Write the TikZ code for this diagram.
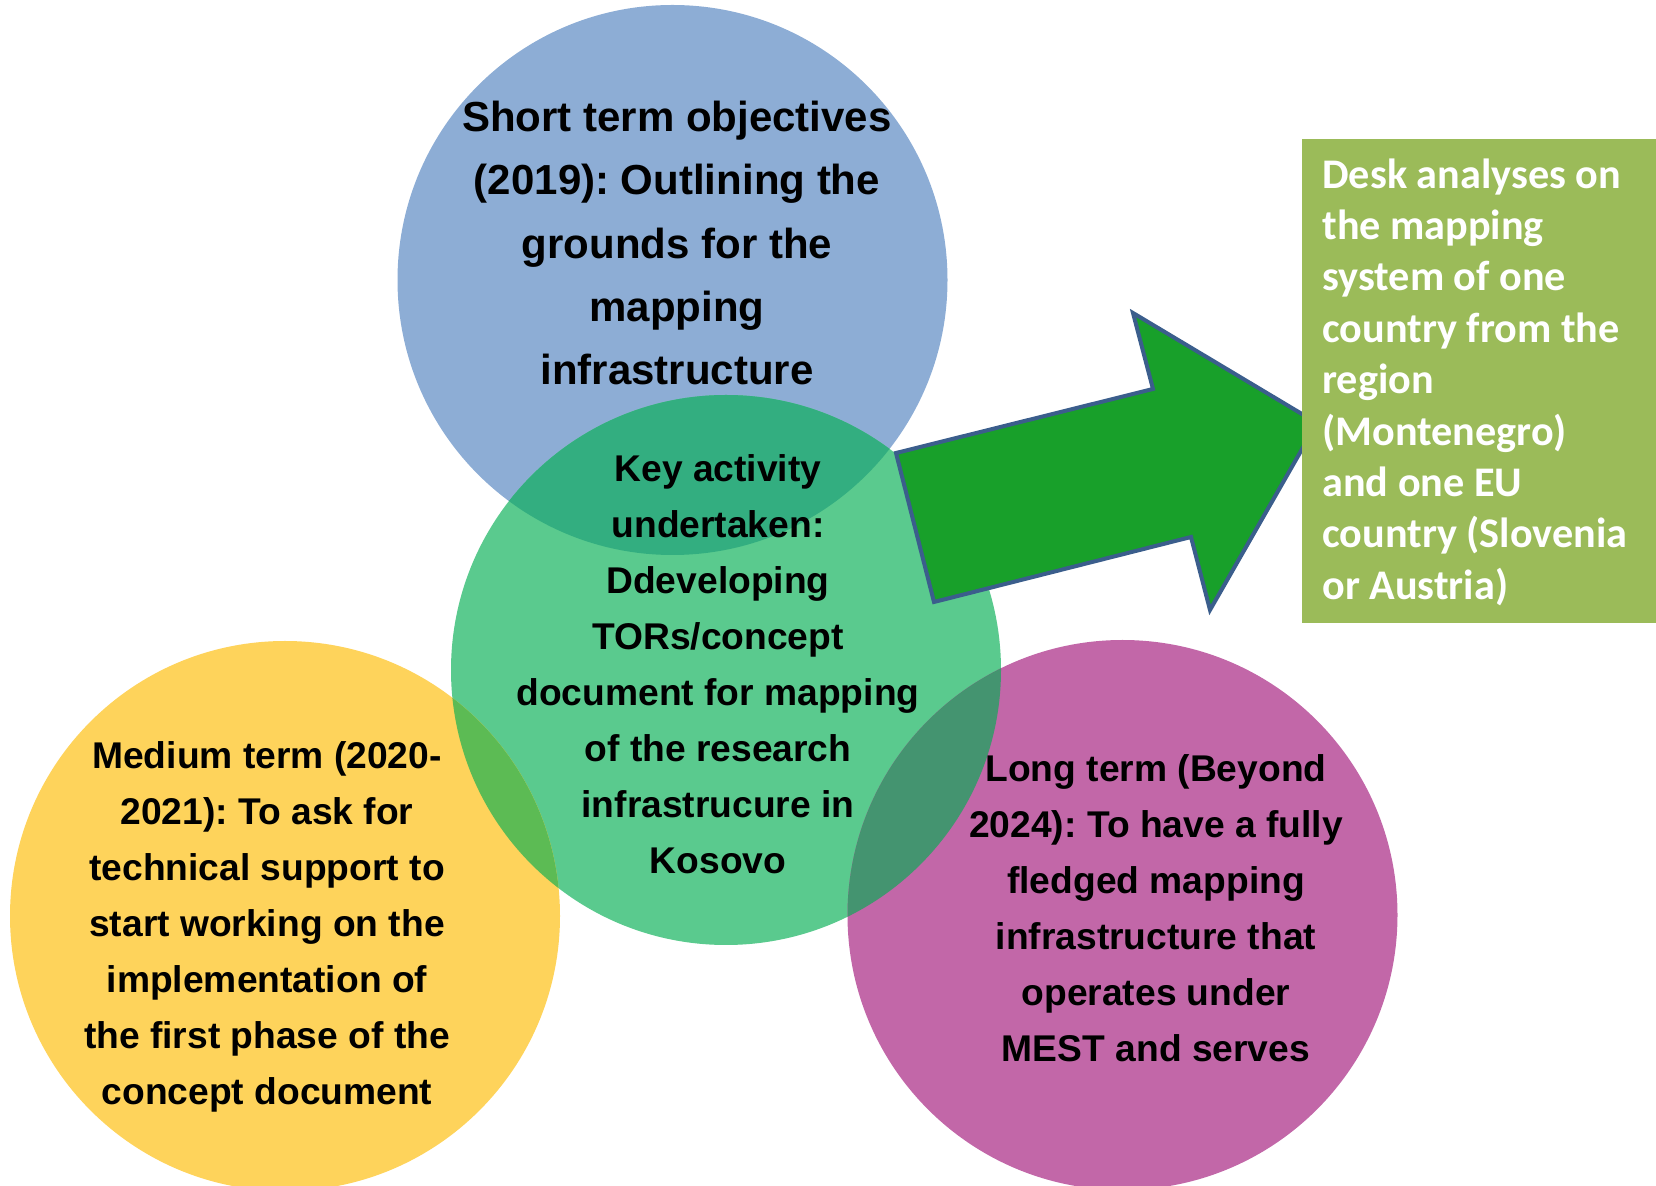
\documentclass[tikz,border=0pt]{standalone}
\usepackage{fontspec}
\setmainfont{Liberation Sans}
\newfontfamily\boxfont{Carlito}
\frenchspacing
\definecolor{cblue}{HTML}{8DADD5}
\definecolor{cgreen}{HTML}{5ACA8E}
\definecolor{cyellow}{HTML}{FED35B}
\definecolor{cpurple}{HTML}{C267A8}
\definecolor{obg}{HTML}{33AE80}
\definecolor{oyg}{HTML}{5CBB54}
\definecolor{ogp}{HTML}{449470}
\definecolor{arrowfill}{HTML}{18A02A}
\definecolor{arrowline}{HTML}{3B5E8C}
\definecolor{boxgreen}{HTML}{9BBB59}
\begin{document}
\begin{tikzpicture}[x=0.5pt,y=-0.5pt,
  disc/.style={circle,inner sep=0pt,minimum size=275pt,draw=none},
  bigtxt/.style={align=center,inner sep=0pt,font=\frenchspacing\fontsize{21}{31.7}\selectfont\bfseries},
  txt/.style={align=center,inner sep=0pt,font=\frenchspacing\fontsize{18.6}{28}\selectfont\bfseries},
  boxtxt/.style={align=left,inner sep=0pt,text=white,font=\frenchspacing\boxfont\fontsize{21.1}{25.7}\selectfont\bfseries}]
\useasboundingbox (0,0) rectangle (1656,1186);
% circles
\node[disc,fill=cblue] (blue) at (672.5,280) {};
\node[disc,fill=cgreen] (green) at (726,670) {};
\node[disc,fill=cyellow] (yellow) at (285,916) {};
\node[disc,fill=cpurple] (purple) at (1122.5,915) {};
% overlaps
\begin{scope}
  \clip (672.5,280) circle[radius=275];
  \fill[obg] (726,670) circle[radius=275];
\end{scope}
\begin{scope}
  \clip (285,916) circle[radius=275];
  \fill[oyg] (726,670) circle[radius=275];
\end{scope}
\begin{scope}
  \clip (1122.5,915) circle[radius=275];
  \fill[ogp] (726,670) circle[radius=275];
\end{scope}
% arrow
\coordinate (a1) at (896,453);
\coordinate (a2) at (1153,389);
\coordinate (a3) at (1133,313);
\coordinate (a4) at (1317,423);
\coordinate (a5) at (1210,610);
\coordinate (a6) at (1191,537);
\coordinate (a7) at (934,602);
\draw[fill=arrowfill,draw=arrowline,line width=2pt,line join=miter] (a1) -- (a2) -- (a3) -- (a4) -- (a5) -- (a6) -- (a7) -- cycle;
% box
\node[fill=boxgreen,minimum width=177pt,minimum height=242pt,inner sep=0pt,anchor=north west] (box) at (1302,139) {};
\node[boxtxt,anchor=north west] (boxlabel) at (1322,158) {Desk analyses on\\the mapping\\system of one\\country from the\\region\\(Montenegro)\\and one EU\\country (Slovenia\\or Austria)};
% texts
\node[bigtxt] (bluelabel) at (677,243) {Short term objectives\\(2019): Outlining the\\grounds for the\\mapping\\infrastructure};
\node[txt] (greenlabel) at (718,664) {Key activity\\undertaken:\\Ddeveloping\\TORs/concept\\document for mapping\\of the research\\infrastrucure in\\Kosovo};
\node[txt] (yellowlabel) at (267,927) {Medium term (2020-\\2021): To ask for\\technical support to\\start working on the\\implementation of\\the first phase of the\\concept document};
\node[txt] (purplelabel) at (1156,908) {Long term (Beyond\\2024): To have a fully\\fledged mapping\\infrastructure that\\operates under\\MEST and serves};
\end{tikzpicture}
\end{document}
